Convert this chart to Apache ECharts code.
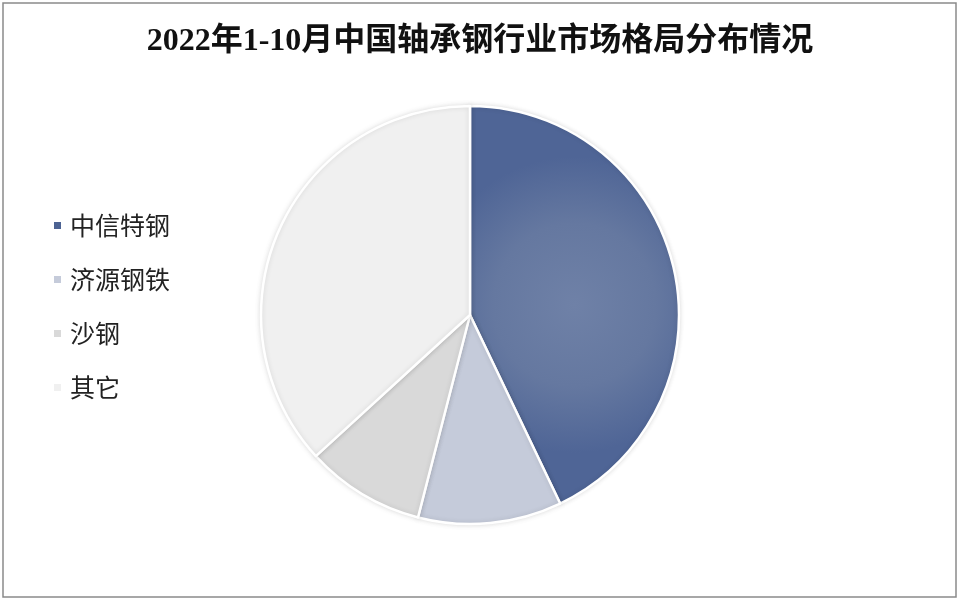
<!DOCTYPE html>
<html><head><meta charset="utf-8">
<script src="https://cdn.jsdelivr.net/npm/echarts@6/dist/echarts.min.js"></script>
<style>html,body{margin:0;padding:0;background:#fff}#c{width:960px;height:601px}</style>
</head><body><div id="c"></div>
<script>
const titleText = '2022年1-10月中国轴承钢行业市场格局分布情况';
const categories = ['中信特钢', '济源钢铁', '沙钢', '其它'];
const shares = [42.9, 11.1, 9.2, 36.8];

const sliceColors = [
  {type:'radial', x:0.5, y:0.5, r:0.7, colorStops:[{offset:0,color:'#6f81a7'},{offset:0.55,color:'#6578a0'},{offset:1,color:'#4f6596'}]},
  '#c5cbda', '#d9d9d9', '#f0f0f0'
];
const legendColors = ['#4d6393', '#c5cbda', '#d9d9d9', '#f0f0f0'];

const chart = echarts.init(document.getElementById('c'));
chart.setOption({
  backgroundColor: '#fff',
  animation: false,
  graphic: [{
    type: 'rect', shape: {x: 3, y: 3, width: 953, height: 594},
    style: {fill: 'none', stroke: '#8a8a8a', lineWidth: 1.5}
  }],
  title: {
    text: titleText, left: 'center', top: 21,
    textStyle: {fontFamily: '"Liberation Serif","Noto Sans CJK SC"', fontSize: 32, fontWeight: 'bold', color: '#111'}
  },
  legend: {
    orient: 'vertical', left: 47, top: 208,
    itemWidth: 9, itemHeight: 9, itemGap: 29, icon: 'rect',
    data: categories.map((n, i) => ({name: n, itemStyle: {color: legendColors[i]}})),
    textStyle: {fontFamily: '"Noto Sans CJK SC"', fontSize: 25, lineHeight: 25, color: '#222', padding: [0,0,0,3]}
  },
  series: [{
    type: 'pie', center: [470, 315], radius: 209, startAngle: 90, clockwise: true,
    label: {show: false}, labelLine: {show: false},
    itemStyle: {borderColor: '#fff', borderWidth: 2.5, shadowBlur: 5, shadowColor: 'rgba(0,0,0,0.12)'},
    data: categories.map((n, i) => ({name: n, value: shares[i], itemStyle: {color: sliceColors[i]}}))
  }]
});
</script></body></html>
